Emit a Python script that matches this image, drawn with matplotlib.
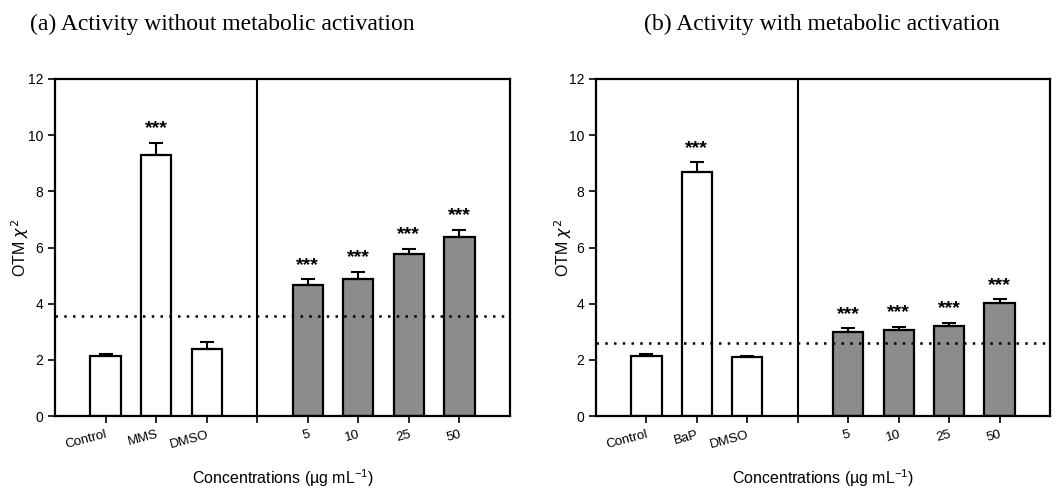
import matplotlib
matplotlib.use("Agg")
import matplotlib.pyplot as plt
import numpy as np

# panel (a): without metabolic activation
labels_a = ["Control", "MMS", "DMSO", "", "5", "10", "25", "50"]
means_a = [2.12, 9.3, 2.37, None, 4.68, 4.88, 5.78, 6.38]
errs_a = [0.1, 0.42, 0.28, None, 0.19, 0.25, 0.18, 0.24]
stars_a = [False, True, False, False, True, True, True, True]
thresh_a = 3.56

# panel (b): with metabolic activation
labels_b = ["Control", "BaP", "DMSO", "", "5", "10", "25", "50"]
means_b = [2.12, 8.68, 2.11, None, 2.98, 3.07, 3.19, 4.01]
errs_b = [0.08, 0.36, 0.03, None, 0.14, 0.11, 0.13, 0.15]
stars_b = [False, True, False, False, True, True, True, True]
thresh_b = 2.61

titles = ["(a) Activity without metabolic activation",
          "(b) Activity with metabolic activation"]

fig = plt.figure(figsize=(10.64, 4.88), dpi=100)
ax_a = fig.add_axes([55 / 1064, 1 - 416 / 488, 455 / 1064, 337 / 488])
ax_b = fig.add_axes([596 / 1064, 1 - 416 / 488, 454 / 1064, 337 / 488])


def draw_panel(ax, labels, means, errs, stars, thresh, ylab_x):
    pos = np.arange(1, len(labels) + 1)
    for p, m, e, s in zip(pos, means, errs, stars):
        if m is None:
            continue
        col = "white" if p < 4 else "#8c8c8c"
        ax.bar(p, m, width=0.6, color=col, edgecolor="black", linewidth=1.6, zorder=2)
        ax.errorbar(p, m, yerr=[[0], [e]], fmt="none", ecolor="black",
                    elinewidth=1.5, capsize=5, capthick=1.5, zorder=3)
        if s:
            ax.text(p, m + e + 0.5, "***", ha="center", va="center",
                    fontsize=14, fontweight="bold", family="Liberation Sans")
    ax.axvline(4, color="black", linewidth=1.5, zorder=4)
    ax.axhline(thresh, color="black", linewidth=1.8, linestyle=(0, (1, 2.5)), zorder=4)
    ax.set_xlim(0, 9)
    ax.set_ylim(0, 12)
    ax.set_yticks(range(0, 13, 2))
    ax.set_xticks(pos)
    ax.set_xticklabels(labels, rotation=15, ha="right", rotation_mode="anchor",
                       fontsize=9.5, family="Liberation Sans")
    for t in ax.get_yticklabels():
        t.set_fontsize(10)
        t.set_family("Liberation Sans")
    ax.tick_params(direction="out", length=5, width=1.2, top=False, right=False)
    ax.tick_params(axis="x", pad=4)
    for sp in ax.spines.values():
        sp.set_linewidth(1.6)
    ax.set_ylabel(r"OTM $\chi^2$", fontsize=11.5, family="Liberation Sans",
                  va="center")
    ax.yaxis.set_label_coords(ylab_x, 0.5)
    ax.set_xlabel(r"Concentrations (µg mL$^{\mathregular{-1}}$)", fontsize=11.5,
                  family="Liberation Sans", va="center")
    ax.xaxis.set_label_coords(0.5, -0.183)


draw_panel(ax_a, labels_a, means_a, errs_a, stars_a, thresh_a, (20 - 55) / 455)
draw_panel(ax_b, labels_b, means_b, errs_b, stars_b, thresh_b, (563 - 596) / 454)

fig.text(222 / 1064, 1 - 24 / 488, titles[0], ha="center", va="center",
         fontsize=17, family="Liberation Serif")
fig.text(822 / 1064, 1 - 24 / 488, titles[1], ha="center", va="center",
         fontsize=17, family="Liberation Serif")

fig.savefig("out.png", dpi=100)
